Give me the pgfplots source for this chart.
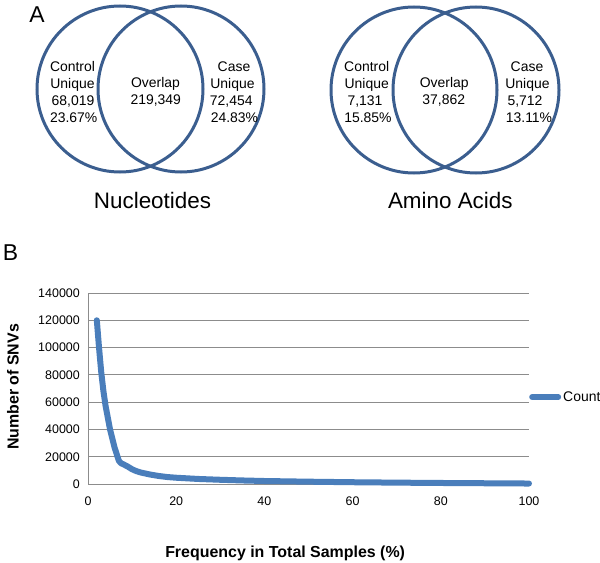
\documentclass[border=0pt]{standalone}
\usepackage{pgfplots}
\pgfplotsset{compat=1.18}
\usepackage{fontspec}
\setmainfont{Liberation Sans}
\definecolor{venn}{HTML}{3B5E8F}
\definecolor{curve}{HTML}{4A7EBB}
\definecolor{gridc}{HTML}{8C8C8C}
\begin{document}
\begin{tikzpicture}
\path[use as bounding box] (0bp,0bp) rectangle (600bp,-563bp);
% ---- Panel A: Venn diagrams ----
\begin{scope}[line width=3bp, draw=venn]
\draw (120bp,-89bp) circle [radius=83bp];
\draw (181bp,-89bp) circle [radius=83bp];
\draw (414bp,-90bp) circle [radius=83bp];
\draw (476bp,-90bp) circle [radius=83bp];
\end{scope}
\begin{scope}[every node/.style={anchor=base, inner sep=0pt, font=\fontsize{14}{17}\selectfont}]
\node at (72.5bp,-71bp) {Control};
\node at (72.5bp,-88bp) {Unique};
\node at (73bp,-105bp) {68,019};
\node at (73.7bp,-122bp) {23.67\%};
\node at (155.5bp,-87bp) {Overlap};
\node at (155.8bp,-104bp) {219,349};
\node at (234bp,-71bp) {Case};
\node at (232.5bp,-88bp) {Unique};
\node at (231.3bp,-105bp) {72,454};
\node at (234.5bp,-122bp) {24.83\%};
\node at (366.7bp,-71bp) {Control};
\node at (366.7bp,-88bp) {Unique};
\node at (365bp,-105bp) {7,131};
\node at (368bp,-122bp) {15.85\%};
\node at (444.3bp,-87bp) {Overlap};
\node at (443.7bp,-104bp) {37,862};
\node at (527bp,-71bp) {Case};
\node at (527.5bp,-88bp) {Unique};
\node at (525bp,-105bp) {5,712};
\node at (529bp,-122bp) {13.11\%};
\end{scope}
\node[anchor=base, inner sep=0pt, font=\fontsize{22.5}{26}\selectfont] at (152.5bp,-208bp) {Nucleotides};
\node[anchor=base, inner sep=0pt, font=\fontsize{22.5}{26}\selectfont] at (450.3bp,-208bp) {Amino Acids};
\node[anchor=base, inner sep=0pt, font=\fontsize{23}{26}\selectfont] at (37bp,-22bp) {A};
\node[anchor=base, inner sep=0pt, font=\fontsize{23}{26}\selectfont] at (10.5bp,-260bp) {B};
% ---- Panel B ----
\begin{axis}[
  at={(88bp,-484bp)}, anchor=south west,
  scale only axis, width=441bp, height=191bp,
  xmin=0, xmax=100, ymin=0, ymax=140000,
  clip=false,
  xtick={0,20,40,60,80,100}, ytick={0,20000,40000,60000,80000,100000,120000,140000},
  xticklabels={0,20,40,60,80,100},
  yticklabels={0,20000,40000,60000,80000,100000,120000,140000},
  scaled y ticks=false, scaled x ticks=false,
  axis lines*=left,
  axis line style={gridc, line width=0.8bp},
  ymajorgrids, major grid style={gridc, line width=0.8bp},
  major tick length=0pt,
  tick label style={font=\fontsize{12.5}{15}\selectfont, inner sep=0pt},
  yticklabel style={anchor=east, xshift=-8bp},
  xticklabel style={anchor=north, yshift=-13bp},
  xlabel={Frequency in Total Samples (\%)},
  ylabel={Number of SNVs},
  xlabel style={at={(rel axis cs:0.447,-0.361)}, anchor=center, font=\bfseries\fontsize{16}{19}\selectfont},
  ylabel style={at={(rel axis cs:-0.170,0.508)}, anchor=center, font=\bfseries\fontsize{16}{19}\selectfont},
  legend style={at={(1,0.455)}, anchor=west, draw=none, fill=none, inner sep=0pt,
    font=\fontsize{14}{17}\selectfont},
  legend cell align=left,
  legend image code/.code={\draw[#1, line width=6bp, line cap=round] (3bp,0bp) -- (29bp,0bp);},
]
\addplot[curve, line width=6bp, line cap=round, line join=round] table {
x y
2 120000
2.5 100000
3 82000
3.5 68000
4 57000
5 40000
6 27000
7 17000
7.5 15200
8 14500
9 12800
10 10800
11 9400
12 8400
14 7000
16 5900
18 5100
20 4600
25 3700
30 3100
35 2600
40 2200
50 1700
60 1300
70 1000
80 750
90 550
100 350
};
\addlegendentry{Count}
\end{axis}
\end{tikzpicture}
\end{document}
